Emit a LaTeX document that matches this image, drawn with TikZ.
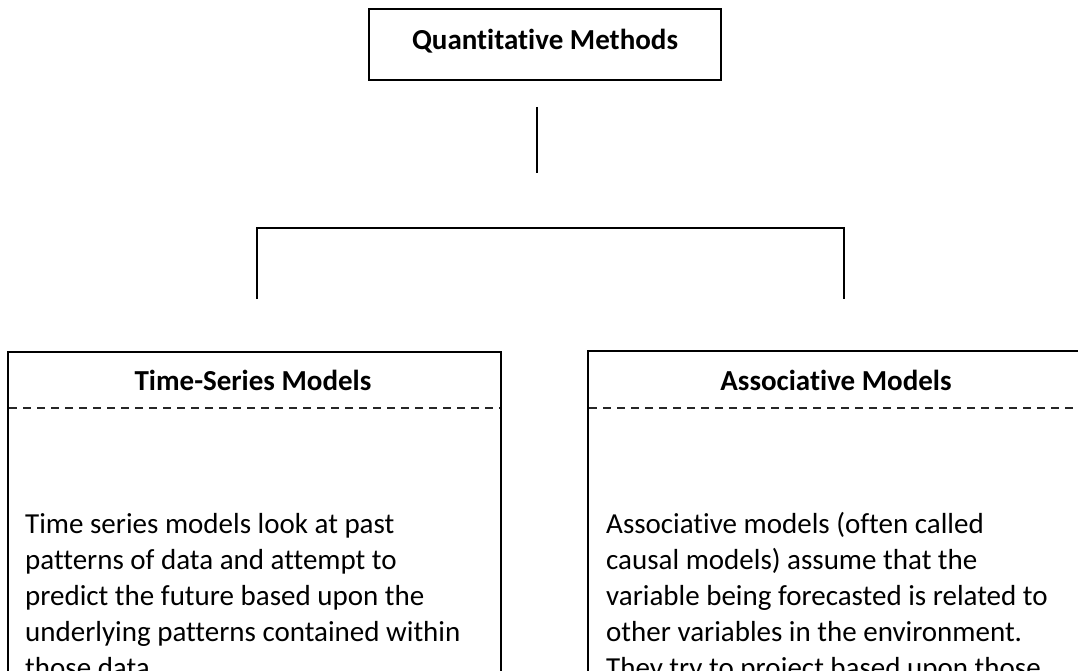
\documentclass[tikz,border=0pt]{standalone}
\usepackage{fontspec}
\setmainfont{Carlito}[Ligatures=NoCommon]
\begin{document}
\begin{tikzpicture}[x=1pt,y=-1pt,
  frame/.style={draw=black,line width=2pt},
  rule/.style={draw=black,line width=2pt},
  divider/.style={draw=black!85,line width=1.6pt,dash pattern=on 8pt off 6pt},
  heading/.style={font=\fontsize{29}{35}\selectfont\bfseries,inner sep=0pt,anchor=base},
  line/.style={font=\fontsize{29}{36}\selectfont,inner sep=0pt,anchor=base west}]
\useasboundingbox (0,0) rectangle (1078,671);
\clip (0,0) rectangle (1078,671);
\fill[white] (0,0) rectangle (1078,671);

% top box
\node[frame,minimum width=352pt,minimum height=71pt,inner sep=0pt] (qm) at (545,44.5) {};
\node[heading] (qmt) at (545,50) {Quantitative Methods};

% stem below the top box
\coordinate (s1) at (537,107);
\coordinate (s2) at (537,173);
\draw[rule] (s1) -- (s2);

% branching bracket
\coordinate (bl) at (257,299);
\coordinate (bltop) at (257,228);
\coordinate (brtop) at (844,228);
\coordinate (br) at (844,299);
\draw[rule,line join=miter] (bl) -- (bltop) -- (brtop) -- (br);

% left box
\coordinate (lt) at (8,352);
\coordinate (lb) at (501,700);
\draw[frame] (lt) rectangle (lb);
\coordinate (ld1) at (9,408);
\coordinate (ld2) at (500,408);
\draw[divider] (ld1) -- (ld2);
\node[heading] (ts) at (253,390) {Time-Series Models};
\node[line] (ts1) at (25,533) {Time series models look at past};
\node[line] (ts2) at (25,569) {patterns of data and attempt to};
\node[line] (ts3) at (25,605) {predict the future based upon the};
\node[line] (ts4) at (25,641) {underlying patterns contained within};
\node[line] (ts5) at (25,677) {those data.};

% right box
\coordinate (rt) at (588,351);
\coordinate (rb) at (1090,700);
\draw[frame] (rt) rectangle (rb);
\coordinate (rd1) at (589,408);
\coordinate (rd2) at (1078,408);
\draw[divider] (rd1) -- (rd2);
\node[heading] (am) at (836,390) {Associative Models};
\node[line] (am1) at (606,533) {Associative models (often called};
\node[line] (am2) at (606,569) {causal models) assume that the};
\node[line] (am3) at (606,605) {variable being forecasted is related to};
\node[line] (am4) at (606,641) {other variables in the environment.};
\node[line] (am5) at (606,677) {They try to project based upon those};
\end{tikzpicture}
\end{document}
